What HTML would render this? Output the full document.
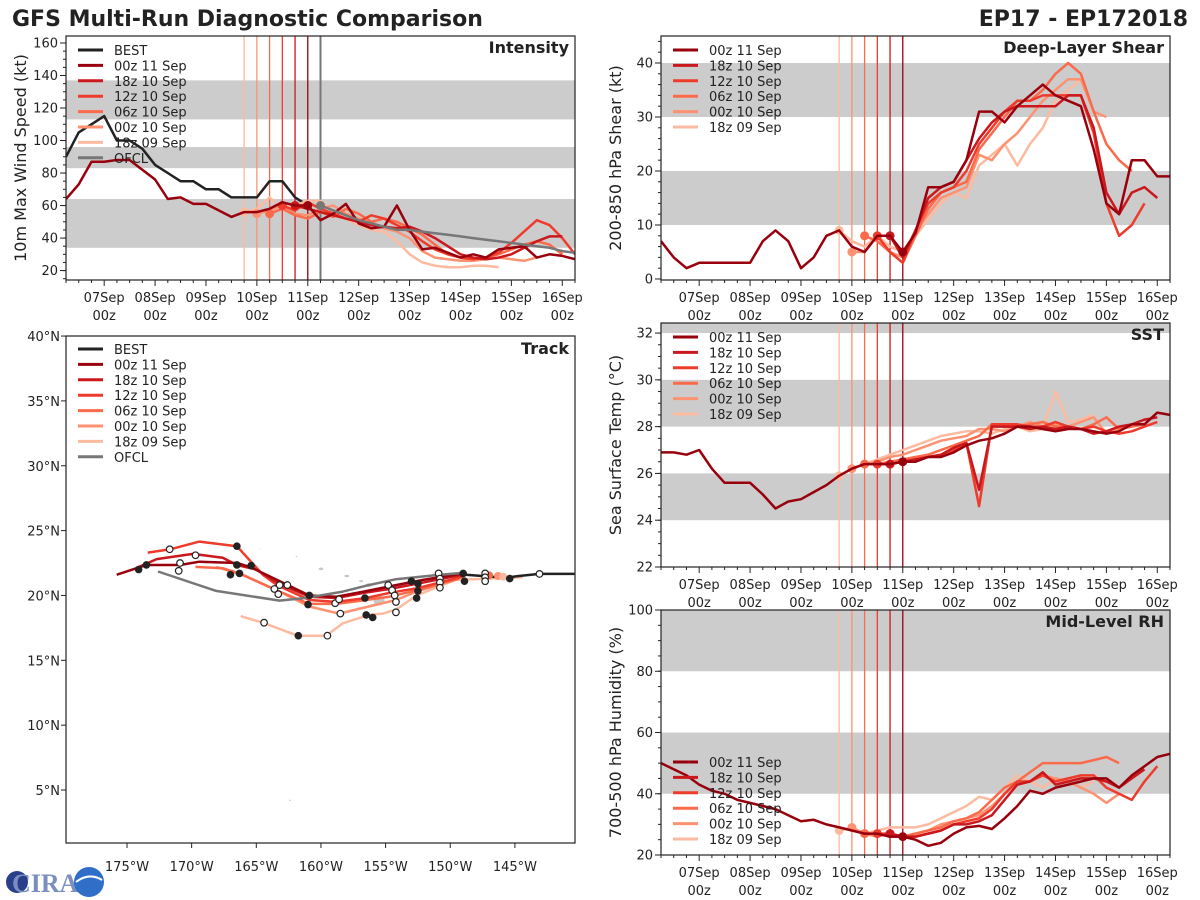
<!DOCTYPE html>
<html><head><meta charset="utf-8"><title>GFS Multi-Run Diagnostic Comparison</title>
<style>
html,body{margin:0;padding:0;background:#fff;}
svg{display:block;font-family:"DejaVu Sans","Liberation Sans",sans-serif;}
</style></head>
<body>
<svg id="chart" width="1200" height="900" viewBox="0 0 1200 900" xmlns="http://www.w3.org/2000/svg">
<rect width="1200" height="900" fill="#fff"/>
<text x="12" y="26" font-size="22" font-weight="bold" fill="#222">GFS Multi-Run Diagnostic Comparison</text>
<text x="1188" y="26" font-size="22" font-weight="bold" fill="#222" text-anchor="end">EP17 - EP172018</text>
<g>
<circle cx="17" cy="882" r="11" fill="#2a3f8a"/>
<text x="12" y="892" font-size="26" font-weight="bold" fill="#7a8fc0" font-family="Liberation Serif,serif">CIRA</text>
<circle cx="89" cy="882" r="15" fill="#2f6fc8"/>
<path d="M76,882 Q89,872 102,880" stroke="#fff" stroke-width="2" fill="none"/>
</g>
</svg>
<script>
// ---------- data ----------
const runNames = ["00z 11 Sep","18z 10 Sep","12z 10 Sep","06z 10 Sep","00z 10 Sep","18z 09 Sep"];
const runInit = [96,90,84,78,72,66]; // hours after 07Sep 00z
const dayLabels = ["07Sep","08Sep","09Sep","10Sep","11Sep","12Sep","13Sep","14Sep","15Sep","16Sep"];
// intensity (kt), 6-hourly from each start hour
const intBestStart = -18;
const intBest = [90,105,110,115,100,100,95,85,80,75,75,70,70,65,65,65,75,75,65,60];
const int00z11Start = -18;
const int00z11 = [64,73,87,87,88,88,82,76,64,65,61,61,57,53,56,56,58,62,60,60,51,55,61,49,46,47,60,45,33,34,31,28,30,28,33,34,35,28,30,29,27];
const int18z10 = [60,58,56,54,52,50,48,47,46,47,44,40,35,30,28,27,28,30,34,38,41,41];
const int12z10 = [60,57,62,58,55,52,50,54,52,48,44,38,33,30,28,27,28,31,37,44,51,48,40,30];
const int06z10 = [55,58,54,52,56,53,58,55,50,52,50,46,42,36,30,28,27,28,30,33,36,38,36,30];
const int00z10 = [55,57,60,55,54,58,60,55,52,50,46,44,40,32,28,27,26,26,27,28,27,26,28];
const int18z09 = [56,58,65,58,60,63,63,56,52,48,45,44,38,30,25,23,22,22,23,23,22];
const intOfclStart = 102;
const intOfcl = [60,57,54,51,49,47,45,45,44,43,42,41,40,39,38,37,36,35,34,32,31];
// deep-layer shear (kt)
const shr00z11 = [7,4,2,3,3,3,3,3,7,9,7,2,4,8,9,6,5,8,8,5,8.5,17,17,18,22,31,31,29,32,34,36,34,33,32,24,14,12,22,22,19,19];
const shr18z10 = [8,4,9,15,17,18,22,26,29,31,32,32,32,32,34,34,28,16,12,16,17,15];
const shr12z10 = [8,5,3,9,14,16,17,20,25,28,31,33,33,34,34,34,34,27,14,8,10,14];
const shr06z10 = [8,7,5,3,8,13,16,17,18,24,27,30,33,33,35,38,40,38,31,25,22,20];
const shr00z10 = [5,5,8,5,4,9,12,15,16,17,23,22,25,27,30,33,35,37,37,31,30];
const shr18z09 = [9,7,6,8,6,5,8,11,14,16,15,21,23,25,21,25,28,33,35,37];
// SST (C)
const sst00z11 = [26.9,26.9,26.8,27.0,26.2,25.6,25.6,25.6,25.1,24.5,24.8,24.9,25.2,25.5,25.9,26.2,26.4,26.4,26.4,26.5,26.5,26.7,26.7,26.9,27.2,27.4,27.5,27.7,28.0,28.0,27.9,27.8,27.9,27.9,27.8,27.7,27.8,28.1,28.1,28.6,28.5];
const sst18z10 = [26.4,26.5,26.6,26.7,26.8,27.1,27.3,25.3,28.0,28.0,28.0,27.9,28.0,27.9,28.0,27.9,27.7,27.8,28.0,28.1,28.3,28.4];
const sst12z10 = [26.4,26.4,26.5,26.6,26.7,26.8,27.0,27.3,24.6,28.1,28.1,28.1,28.0,28.0,28.2,28.0,27.9,28.0,27.8,27.7,27.8,28.0,28.2];
const sst06z10 = [26.4,26.4,26.5,26.6,26.7,26.8,27.0,27.2,27.4,27.6,28.1,28.0,28.0,28.1,28.2,28.0,28.0,27.9,28.1,28.4,27.9,28.0,28.1];
const sst00z10 = [26.2,26.4,26.5,26.7,26.8,27.0,27.2,27.4,27.5,27.6,27.9,27.9,27.8,28.0,28.2,28.0,28.1,28.0,28.2,28.4,27.7,27.9,28.0];
const sst18z09 = [25.9,26.2,26.4,26.6,26.8,27.0,27.2,27.4,27.6,27.7,27.8,27.8,27.7,27.9,28.0,27.8,27.9,29.5,28.2,28.3,28.5];
// mid-level RH (%)
const rh00z11 = [50,48,46,43,41,40,38,37,36,35,33,31,31.5,30,29,28,27,27,26,26,25,23,24,27,29,29.5,28.5,32,36,41,40,42,43,44,45,45,42,46,49,52,53];
const rh18z10 = [27,26,26,27,28,30,30,31,33,38,43,44,47,43,44,45,45,44,42,45,48];
const rh12z10 = [27,27,26,26,27,28,30,31,32,35,40,44,44,46,44,45,46,46,42,40,38,44,49];
const rh06z10 = [27,27,26,26,27,28,29,31,32,34,38,42,44,47,50,50,50,50,51,52,50];
const rh00z10 = [29,27,26,27,26,27,28,30,31,32,33,36,40,44,44,46,45,44,42,40,37,40];
const rh18z09 = [28,29,27,28,29,29,29,30,32,34,36,39,38,42,46,44,42,45,44,42,44];
// tracks (deg W, deg N)
const trkBestLon = [140.4,143.1,144.7,145.7,148.8];
const trkBestLat = [21.66,21.66,21.5,21.37,21.6];
const trk00z11Lon = [149.0,152.1,154.7,156.7,158.8,160.9,163.4,165.5,166.5,169.4,170.9,173.5,175.8];
const trk00z11Lat = [21.7,21.2,20.7,20.3,19.9,20.0,21.2,22.2,22.5,22.6,22.35,22.35,21.6];
const trk18z10Lon = [149.0,152.6,154.7,156.7,158.8,160.9,163.2,165.0,166.5,167.6,169.9,172.7,174.3];
const trk18z10Lat = [21.6,20.9,20.5,20.2,19.8,19.9,20.9,22.0,22.35,22.9,23.2,22.8,22.1];
const trk12z10Lon = [149.0,152.6,154.7,156.5,158.8,160.9,163.4,164.5,166.5,169.4,171.7,173.4];
const trk12z10Lat = [21.45,20.55,20.2,19.8,19.5,19.65,20.8,21.6,23.8,24.15,23.55,23.3];
const trk06z10Lon = [149.3,152.6,154.7,156.5,158.8,160.9,163.2,166.3,167.6,169.7];
const trk06z10Lat = [21.3,20.4,19.9,19.65,19.35,19.35,20.3,21.7,22.1,22.2];
const trk00z10Lon = [149.6,152.6,154.2,156.3,158.6,160.9,163.4,166.1,168.1];
const trk00z10Lat = [21.2,20.3,19.65,19.15,18.6,19.15,20.4,21.6,22.2];
const trk18z09Lon = [144.4,149.6,152.6,154.2,155.2,156.3,158.3,159.6,161.8,164.5,166.2];
const trk18z09Lat = [21.4,21.2,20.0,18.9,18.6,18.5,17.85,16.9,16.9,17.9,18.4];
const trkOfclLon = [148.8,150.8,154.2,156.3,158.3,161.2,163.2,168.1,172.6];
const trkOfclLat = [21.76,21.6,21.25,20.8,20.3,19.8,19.6,20.35,21.85];
const dot00Lon = [166.5,174.1,173.5,166.5,165.4,167.0,166.3,160.9,161.0,156.6,156.5,156.0,153.0,152.5,152.5,152.6,149.0,148.9,145.4,161.75];
const dot00Lat = [23.8,22.0,22.35,22.35,22.3,21.6,21.7,20.0,19.3,19.8,18.5,18.3,21.1,20.9,20.35,19.8,21.7,21.1,21.3,16.9];
const dot12Lon = [171.7,169.7,170.9,171.0,163.2,162.6,163.6,163.3,158.9,158.6,158.5,159.5,164.4,154.8,154.5,154.3,154.2,154.2,150.9,150.8,150.8,150.8,147.3,147.3,147.3,143.1];
const dot12Lat = [23.56,23.1,22.5,21.9,20.8,20.8,20.5,20.1,19.4,19.7,18.6,16.9,17.9,20.8,20.4,20.0,19.5,18.7,21.7,21.3,21.0,20.6,21.7,21.4,21.1,21.66];
const lonTicks = [175,170,165,160,155,150,145];
const latTicks = [5,10,15,20,25,30,35,40];

// ---------- drawing ----------
const svg = document.getElementById('chart');
const NS = 'http://www.w3.org/2000/svg';
const runColors = ['#99000d','#cb181d','#ef3b2c','#fb6a4a','#fc9272','#fcbba1'];
function mk(tag, attrs, parent){const e=document.createElementNS(NS,tag);for(const k in attrs)e.setAttribute(k,attrs[k]);(parent||svg).appendChild(e);return e;}

function tsPanel(cfg){
  const g = mk('g',{});
  
  
  const X = t => cfg.x0 + (t/24 + 0.75) * cfg.w / 10;
  const Y = v => cfg.y0 + cfg.h - (v - cfg.ymin) / (cfg.ymax - cfg.ymin) * cfg.h;
  const clipId = 'clip-' + cfg.name;
  const cp = mk('clipPath',{id:clipId}, g);
  mk('rect',{x:cfg.x0,y:cfg.y0,width:cfg.w,height:cfg.h}, cp);
  const inner = mk('g',{'clip-path':'url(#'+clipId+')'}, g);
  cfg.bands.forEach(b=>{
    const r = mk('rect',{x:cfg.x0,y:Y(b[1]),width:cfg.w,height:Y(b[0])-Y(b[1]),fill:'#cccccc'}, inner);
    
    
  });
  for(let i=runInit.length-1;i>=0;i--){
    const l = mk('line',{x1:X(runInit[i]),x2:X(runInit[i]),y1:cfg.y0,y2:cfg.y0+cfg.h,stroke:runColors[i],'stroke-width':1.3}, inner);
    
    
  }
  if(cfg.ofclLine){
    const l = mk('line',{x1:X(cfg.ofclLine),x2:X(cfg.ofclLine),y1:cfg.y0,y2:cfg.y0+cfg.h,stroke:'#777','stroke-width':2}, inner);
    
    
  }
  cfg.series.forEach(s=>{
    const pts = s.data.map((v,i)=>X(s.start+i*6).toFixed(1)+','+Y(v).toFixed(1)).join(' ');
    const pl = mk('polyline',{points:pts,fill:'none',stroke:s.color,'stroke-width':s.width||2.5,'stroke-linejoin':'round'}, inner);
    
    
    if(s.dot!==undefined){
      const idx = (s.dot - s.start)/6;
      const c = mk('circle',{cx:X(s.dot),cy:Y(s.data[idx]),r:4.5,fill:s.color}, inner);
      
      
    }
  });
  const fr = mk('rect',{x:cfg.x0,y:cfg.y0,width:cfg.w,height:cfg.h,fill:'none',stroke:'#222','stroke-width':1.2}, g);
  
  
  for(let t=-18;t<=222;t+=6){
    const major = t%24===0;
    mk('line',{x1:X(t),x2:X(t),y1:cfg.y0+cfg.h,y2:cfg.y0+cfg.h+(major?6:3),stroke:'#222','stroke-width':1}, g);
  }
  dayLabels.forEach((d,i)=>{
    const tx = mk('text',{x:X(i*24),y:cfg.y0+cfg.h+22,'font-size':13,'text-anchor':'middle',fill:'#222'}, g);
    tx.textContent = d;
    
    
    const tz = mk('text',{x:X(i*24),y:cfg.y0+cfg.h+40,'font-size':13,'text-anchor':'middle',fill:'#222'}, g);
    tz.textContent = '00z';
    
    
  });
  for(let v=cfg.minorStart; v<=cfg.ymax+1e-6; v+=cfg.minor){
    if(v<cfg.ymin-1e-6) continue;
    mk('line',{x1:cfg.x0,x2:cfg.x0-3,y1:Y(v),y2:Y(v),stroke:'#222'}, g);
  }
  cfg.yticks.forEach(v=>{
    mk('line',{x1:cfg.x0,x2:cfg.x0-6,y1:Y(v),y2:Y(v),stroke:'#222'}, g);
    const tx = mk('text',{x:cfg.x0-8,y:Y(v)+4.5,'font-size':13,'text-anchor':'end',fill:'#222'}, g);
    tx.textContent = v;
    
    
  });
  const yl = mk('text',{x:0,y:0,'font-size':16,'text-anchor':'middle',fill:'#222',transform:'translate('+(cfg.x0-40)+','+(cfg.y0+cfg.h/2)+') rotate(-90)'}, g);
  yl.textContent = cfg.ylabel;
  
  
  const tt = mk('text',{x:cfg.x0+cfg.w-6,y:cfg.y0+17,'font-size':16,'font-weight':'bold','text-anchor':'end',fill:'#222'}, g);
  tt.textContent = cfg.title;
  
  
  legend(g, cfg.x0+12, cfg.y0+14, cfg.legend);
}

function legend(g, x, y, entries){
  const lg = mk('g',{}, g);
  
  
  entries.forEach((e,i)=>{
    const yy = y + i*15.4;
    const l = mk('line',{x1:x,x2:x+25,y1:yy,y2:yy,stroke:e[1],'stroke-width':3}, lg);
    
    
    const t = mk('text',{x:x+36,y:yy+5,'font-size':13,fill:'#222'}, lg);
    t.textContent = e[0];
    
    
  });
}

const runLegend = runNames.map((n,i)=>[n,runColors[i]]);
const fullLegend = [['BEST','#222']].concat(runLegend).concat([['OFCL','#777']]);

function runSeries(arrs, firstStart){
  const out=[];
  for(let i=arrs.length-1;i>=0;i--){
    out.push({data:arrs[i], start: i===0?firstStart:runInit[i], color:runColors[i], dot:runInit[i]});
  }
  return out;
}

tsPanel({name:'intensity-panel',x0:66,y0:36,w:509,h:244,ymin:14.2,ymax:164.3,
  bands:[[34,64],[83,96],[113,137]],yticks:[20,40,60,80,100,120,140,160],minor:5,minorStart:15,
  ylabel:'10m Max Wind Speed (kt)',title:'Intensity',legend:fullLegend,ofclLine:102,
  series:[{data:intBest,start:intBestStart,color:'#222'}]
   .concat(runSeries([int00z11,int18z10,int12z10,int06z10,int00z10,int18z09], int00z11Start))
   .concat([{data:intOfcl,start:intOfclStart,color:'#777',dot:intOfclStart}])});
tsPanel({name:'shear-panel',x0:661,y0:36,w:509,h:244,ymin:-0.19,ymax:45,
  bands:[[10,20],[30,40]],yticks:[0,10,20,30,40],minor:2,minorStart:0,
  ylabel:'200-850 hPa Shear (kt)',title:'Deep-Layer Shear',legend:runLegend,
  series:runSeries([shr00z11,shr18z10,shr12z10,shr06z10,shr00z10,shr18z09], -18)});
tsPanel({name:'sst-panel',x0:661,y0:323,w:509,h:244,ymin:22,ymax:32.43,
  bands:[[24,26],[28,30],[32,34]],yticks:[22,24,26,28,30,32],minor:0.5,minorStart:22,
  ylabel:'Sea Surface Temp (°C)',title:'SST',legend:runLegend,
  series:runSeries([sst00z11,sst18z10,sst12z10,sst06z10,sst00z10,sst18z09], -18)});
tsPanel({name:'rh-panel',x0:661,y0:610,w:509,h:245,ymin:20,ymax:100,
  bands:[[40,60],[80,100]],yticks:[20,40,60,80,100],minor:5,minorStart:20,
  ylabel:'700-500 hPa Humidity (%)',title:'Mid-Level RH',legend:[],
  series:runSeries([rh00z11,rh18z10,rh12z10,rh06z10,rh00z10,rh18z09], -18)});
(function(){const g=svg.lastChild; legend(g, 673, 762, runLegend);})();

(function(){
  const g = mk('g',{});
  
  
  const x0=66,y0=336,w=509,h=507;
  const LX = lon => 127 + (175 - lon) * 12.93;
  const LY = lat => 790 - (lat - 5) * 12.97;
  const cp = mk('clipPath',{id:'clip-track'}, g);
  mk('rect',{x:x0,y:y0,width:w,height:h}, cp);
  const inner = mk('g',{'clip-path':'url(#clip-track)'}, g);
  const isl = [[160.0,22.05,2.2,1.4],[158.0,21.5,2.4,1.2],[156.9,21.1,2.0,1.0],[156.3,20.8,3.2,1.8],[155.5,19.6,5.5,5.0],[161.9,23.0,0.8,0.6],[164.7,23.6,0.6,0.4],[162.4,4.2,0.8,0.7]];
  isl.forEach(s=>{
    const e = mk('ellipse',{cx:LX(s[0]),cy:LY(s[1]),rx:s[2],ry:s[3],fill:'#c8c8c8'}, inner);
    
    
  });
  const tracks = [[trk18z09Lon,trk18z09Lat,runColors[5]],[trk00z10Lon,trk00z10Lat,runColors[4]],[trk06z10Lon,trk06z10Lat,runColors[3]],
    [trk12z10Lon,trk12z10Lat,runColors[2]],[trk18z10Lon,trk18z10Lat,runColors[1]],[trk00z11Lon,trk00z11Lat,runColors[0]],
    [trkOfclLon,trkOfclLat,'#777'],[trkBestLon,trkBestLat,'#222']];
  tracks.forEach(tr=>{
    const pts = tr[0].map((lo,i)=>LX(lo).toFixed(1)+','+LY(tr[1][i]).toFixed(1)).join(' ');
    const pl = mk('polyline',{points:pts,fill:'none',stroke:tr[2],'stroke-width':2.5,'stroke-linejoin':'round'}, inner);
    
    
  });
  [[146.3,21.5,runColors[4]],[145.9,21.45,runColors[5]],[147.0,21.55,runColors[3]]].forEach(d=>{
    const c = mk('circle',{cx:LX(d[0]),cy:LY(d[1]),r:4,fill:d[2]}, inner);
    
    
  });
  dot00Lon.forEach((lo,i)=>{
    const c = mk('circle',{cx:LX(lo),cy:LY(dot00Lat[i]),r:3.8,fill:'#222'}, inner);
    
    
  });
  dot12Lon.forEach((lo,i)=>{
    const c = mk('circle',{cx:LX(lo),cy:LY(dot12Lat[i]),r:3.3,fill:'#fff',stroke:'#222','stroke-width':1.2}, inner);
    
    
  });
  const fr = mk('rect',{x:x0,y:y0,width:w,height:h,fill:'none',stroke:'#222','stroke-width':1.2}, g);
  
  
  lonTicks.forEach(lo=>{
    mk('line',{x1:LX(lo),x2:LX(lo),y1:y0+h,y2:y0+h+5,stroke:'#222'}, g);
    const t = mk('text',{x:LX(lo),y:y0+h+28,'font-size':13,'text-anchor':'middle',fill:'#222'}, g);
    t.textContent = lo+'°W';
    
    
  });
  latTicks.forEach(la=>{
    mk('line',{x1:x0,x2:x0-5,y1:LY(la),y2:LY(la),stroke:'#222'}, g);
    const t = mk('text',{x:x0-6,y:LY(la)+5,'font-size':13,'text-anchor':'end',fill:'#222'}, g);
    t.textContent = la+'°N';
    
    
  });
  const tt = mk('text',{x:x0+w-6,y:y0+18,'font-size':16,'font-weight':'bold','text-anchor':'end',fill:'#222'}, g);
  tt.textContent = 'Track';
  
  
  legend(g, x0+12, y0+13, fullLegend);
})();
</script>
</body></html>
